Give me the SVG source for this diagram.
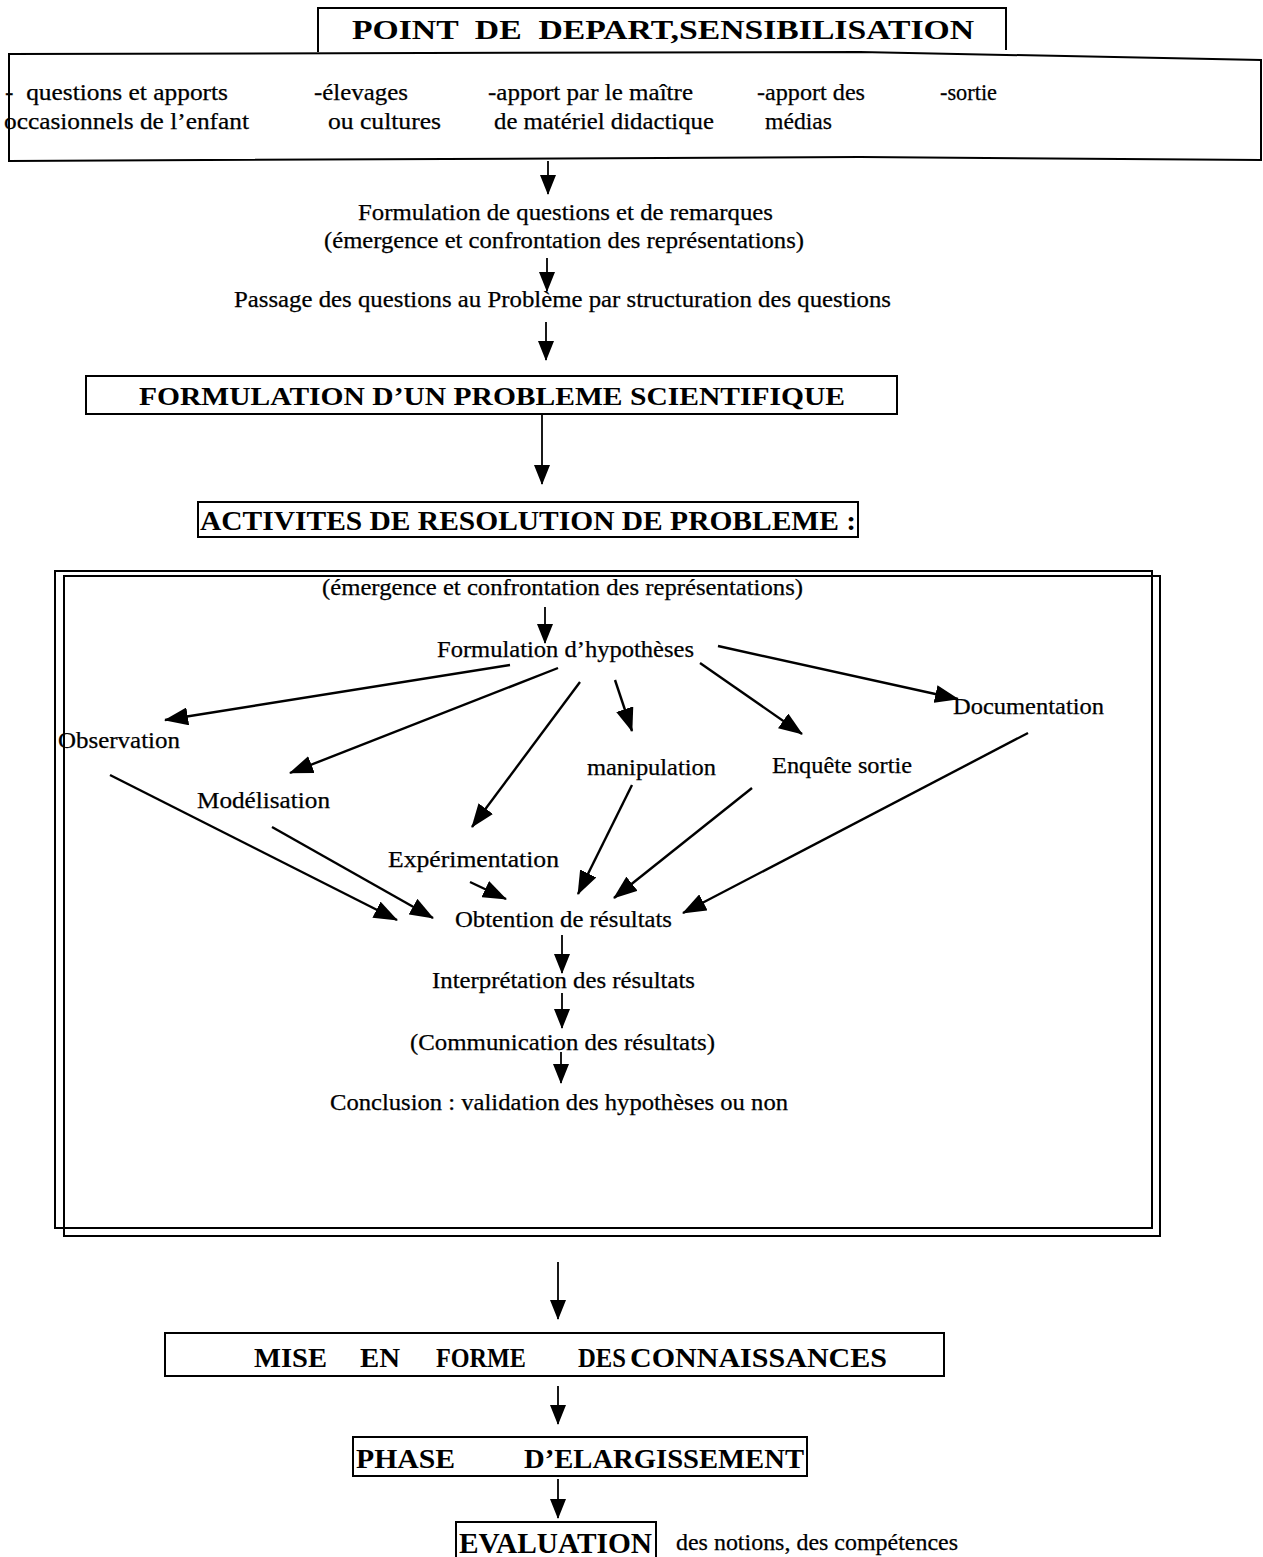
<svg xmlns="http://www.w3.org/2000/svg" width="1263" height="1557" viewBox="0 0 1263 1557">
<defs>
<style>
.t{font-family:"Liberation Serif","Times New Roman",serif;font-size:23px;fill:#000;stroke:#000;stroke-width:0.25}
.h{font-family:"Liberation Serif","Times New Roman",serif;font-weight:bold;fill:#000}
.bx{fill:none;stroke:#000;stroke-width:2}
.c{fill:none;stroke:#000;stroke-width:1.8}
.d{fill:none;stroke:#000;stroke-width:2.4}
</style>
<marker id="ah" viewBox="0 0 20 16" refX="19" refY="8" markerWidth="20" markerHeight="16" markerUnits="userSpaceOnUse" orient="auto"><path d="M0,0 L20,8 L0,16 Z" fill="#000"/></marker>
<marker id="ahb" viewBox="0 0 24 18" refX="23" refY="9" markerWidth="24" markerHeight="18" markerUnits="userSpaceOnUse" orient="auto"><path d="M0,0 L24,9 L0,18 Z" fill="#000"/></marker>
</defs>
<rect width="1263" height="1557" fill="#fff"/>

<g id="n-depart">
<path class="bx" d="M318,52 L318,8 L1006,8 L1006,50"/>
<text class="h" x="352" y="39" font-size="27" textLength="622" lengthAdjust="spacingAndGlyphs" xml:space="preserve">POINT  DE  DEPART,SENSIBILISATION</text>
</g>

<g id="n-sources">
<path class="bx" d="M9,54 L860,52 L1261,60 L1261,160 L860,157 L9,161 Z"/>
<text class="t" x="5" y="100" textLength="223" lengthAdjust="spacingAndGlyphs" xml:space="preserve">-  questions et apports</text>
<text class="t" x="4" y="129" textLength="245" lengthAdjust="spacingAndGlyphs">occasionnels de l’enfant</text>
<text class="t" x="314" y="100" textLength="94" lengthAdjust="spacingAndGlyphs">-élevages</text>
<text class="t" x="328" y="129" textLength="113" lengthAdjust="spacingAndGlyphs">ou cultures</text>
<text class="t" x="488" y="100" textLength="205" lengthAdjust="spacingAndGlyphs">-apport par le maître</text>
<text class="t" x="494" y="129" textLength="220" lengthAdjust="spacingAndGlyphs">de matériel didactique</text>
<text class="t" x="757" y="100" textLength="108" lengthAdjust="spacingAndGlyphs">-apport des</text>
<text class="t" x="765" y="129" textLength="67" lengthAdjust="spacingAndGlyphs">médias</text>
<text class="t" x="940" y="100" textLength="57" lengthAdjust="spacingAndGlyphs">-sortie</text>
</g>

<g id="n-formulation-questions">
<text class="t" x="358" y="220" textLength="415" lengthAdjust="spacingAndGlyphs">Formulation de questions et de remarques</text>
<text class="t" x="324" y="248" textLength="480" lengthAdjust="spacingAndGlyphs">(émergence et confrontation des représentations)</text>
</g>

<g id="n-passage">
<text class="t" x="234" y="307" textLength="657" lengthAdjust="spacingAndGlyphs">Passage des questions au Problème par structuration des questions</text>
</g>

<g id="n-probleme">
<rect class="bx" x="86" y="376" width="811" height="38"/>
<text class="h" x="139" y="405" font-size="26" textLength="706" lengthAdjust="spacingAndGlyphs">FORMULATION D’UN PROBLEME SCIENTIFIQUE</text>
</g>

<g id="n-activites">
<rect class="bx" x="198" y="502" width="660" height="35"/>
<text class="h" x="200" y="530" font-size="28" textLength="656" lengthAdjust="spacingAndGlyphs">ACTIVITES DE RESOLUTION DE PROBLEME :</text>
</g>

<g id="n-cadre">
<rect class="bx" x="55" y="571" width="1097" height="657"/>
<rect class="bx" x="64" y="576" width="1096" height="660"/>
</g>

<g id="n-emergence">
<text class="t" x="322" y="595" textLength="481" lengthAdjust="spacingAndGlyphs">(émergence et confrontation des représentations)</text>
</g>
<g id="n-hypotheses">
<text class="t" x="437" y="657" textLength="257" lengthAdjust="spacingAndGlyphs">Formulation d’hypothèses</text>
</g>
<g id="n-observation">
<text class="t" x="58" y="748" textLength="122" lengthAdjust="spacingAndGlyphs">Observation</text>
</g>
<g id="n-documentation">
<text class="t" x="953" y="714" textLength="151" lengthAdjust="spacingAndGlyphs">Documentation</text>
</g>
<g id="n-modelisation">
<text class="t" x="197" y="808" textLength="133" lengthAdjust="spacingAndGlyphs">Modélisation</text>
</g>
<g id="n-manipulation">
<text class="t" x="587" y="775" textLength="129" lengthAdjust="spacingAndGlyphs">manipulation</text>
</g>
<g id="n-enquete">
<text class="t" x="772" y="773" textLength="140" lengthAdjust="spacingAndGlyphs">Enquête sortie</text>
</g>
<g id="n-experimentation">
<text class="t" x="388" y="867" textLength="171" lengthAdjust="spacingAndGlyphs">Expérimentation</text>
</g>
<g id="n-obtention">
<text class="t" x="455" y="927" textLength="217" lengthAdjust="spacingAndGlyphs">Obtention de résultats</text>
</g>
<g id="n-interpretation">
<text class="t" x="432" y="988" textLength="263" lengthAdjust="spacingAndGlyphs">Interprétation des résultats</text>
</g>
<g id="n-communication">
<text class="t" x="410" y="1050" textLength="305" lengthAdjust="spacingAndGlyphs">(Communication des résultats)</text>
</g>
<g id="n-conclusion">
<text class="t" x="330" y="1110" textLength="458" lengthAdjust="spacingAndGlyphs">Conclusion : validation des hypothèses ou non</text>
</g>

<g id="n-mise">
<rect class="bx" x="165" y="1333" width="779" height="43"/>
<text class="h" x="254" y="1367" font-size="28" textLength="73" lengthAdjust="spacingAndGlyphs">MISE</text>
<text class="h" x="360" y="1367" font-size="28" textLength="40" lengthAdjust="spacingAndGlyphs">EN</text>
<text class="h" x="436" y="1367" font-size="28" textLength="90" lengthAdjust="spacingAndGlyphs">FORME</text>
<text class="h" x="578" y="1367" font-size="28" textLength="48" lengthAdjust="spacingAndGlyphs">DES</text>
<text class="h" x="630" y="1367" font-size="28" textLength="257" lengthAdjust="spacingAndGlyphs">CONNAISSANCES</text>
</g>

<g id="n-phase">
<rect class="bx" x="353" y="1437" width="454" height="39"/>
<text class="h" x="356" y="1468" font-size="28" textLength="99" lengthAdjust="spacingAndGlyphs">PHASE</text>
<text class="h" x="524" y="1468" font-size="28" textLength="280" lengthAdjust="spacingAndGlyphs">D’ELARGISSEMENT</text>
</g>

<g id="n-evaluation">
<rect class="bx" x="456" y="1522" width="200" height="40"/>
<text class="h" x="459" y="1553" font-size="30" textLength="193" lengthAdjust="spacingAndGlyphs">EVALUATION</text>
<text class="t" x="676" y="1550" font-size="21" textLength="282" lengthAdjust="spacingAndGlyphs">des notions, des compétences</text>
</g>

<g id="connectors">
<line class="c" x1="548" y1="161" x2="548" y2="194" marker-end="url(#ah)"/>
<line class="c" x1="547" y1="258" x2="547" y2="291" marker-end="url(#ah)"/>
<line class="c" x1="546" y1="322" x2="546" y2="360" marker-end="url(#ah)"/>
<line class="c" x1="542" y1="415" x2="542" y2="484" marker-end="url(#ah)"/>
<line class="c" x1="545" y1="607" x2="545" y2="643" marker-end="url(#ah)"/>
<line class="d" x1="510" y1="665" x2="165" y2="720" marker-end="url(#ahb)"/>
<line class="d" x1="558" y1="668" x2="290" y2="773" marker-end="url(#ahb)"/>
<line class="d" x1="580" y1="682" x2="472" y2="827" marker-end="url(#ahb)"/>
<line class="d" x1="615" y1="680" x2="632" y2="731" marker-end="url(#ahb)"/>
<line class="d" x1="700" y1="663" x2="802" y2="734" marker-end="url(#ahb)"/>
<line class="d" x1="718" y1="646" x2="958" y2="699" marker-end="url(#ahb)"/>
<line class="d" x1="110" y1="775" x2="397" y2="920" marker-end="url(#ahb)"/>
<line class="d" x1="272" y1="827" x2="433" y2="918" marker-end="url(#ahb)"/>
<line class="d" x1="470" y1="882" x2="506" y2="899" marker-end="url(#ahb)"/>
<line class="d" x1="632" y1="785" x2="578" y2="894" marker-end="url(#ahb)"/>
<line class="d" x1="752" y1="788" x2="614" y2="898" marker-end="url(#ahb)"/>
<line class="d" x1="1028" y1="733" x2="683" y2="913" marker-end="url(#ahb)"/>
<line class="c" x1="562" y1="935" x2="562" y2="973" marker-end="url(#ah)"/>
<line class="c" x1="562" y1="993" x2="562" y2="1028" marker-end="url(#ah)"/>
<line class="c" x1="561" y1="1052" x2="561" y2="1083" marker-end="url(#ah)"/>
<line class="c" x1="558" y1="1262" x2="558" y2="1319" marker-end="url(#ah)"/>
<line class="c" x1="558" y1="1386" x2="558" y2="1424" marker-end="url(#ah)"/>
<line class="c" x1="558" y1="1479" x2="558" y2="1518" marker-end="url(#ah)"/>
</g>
</svg>
